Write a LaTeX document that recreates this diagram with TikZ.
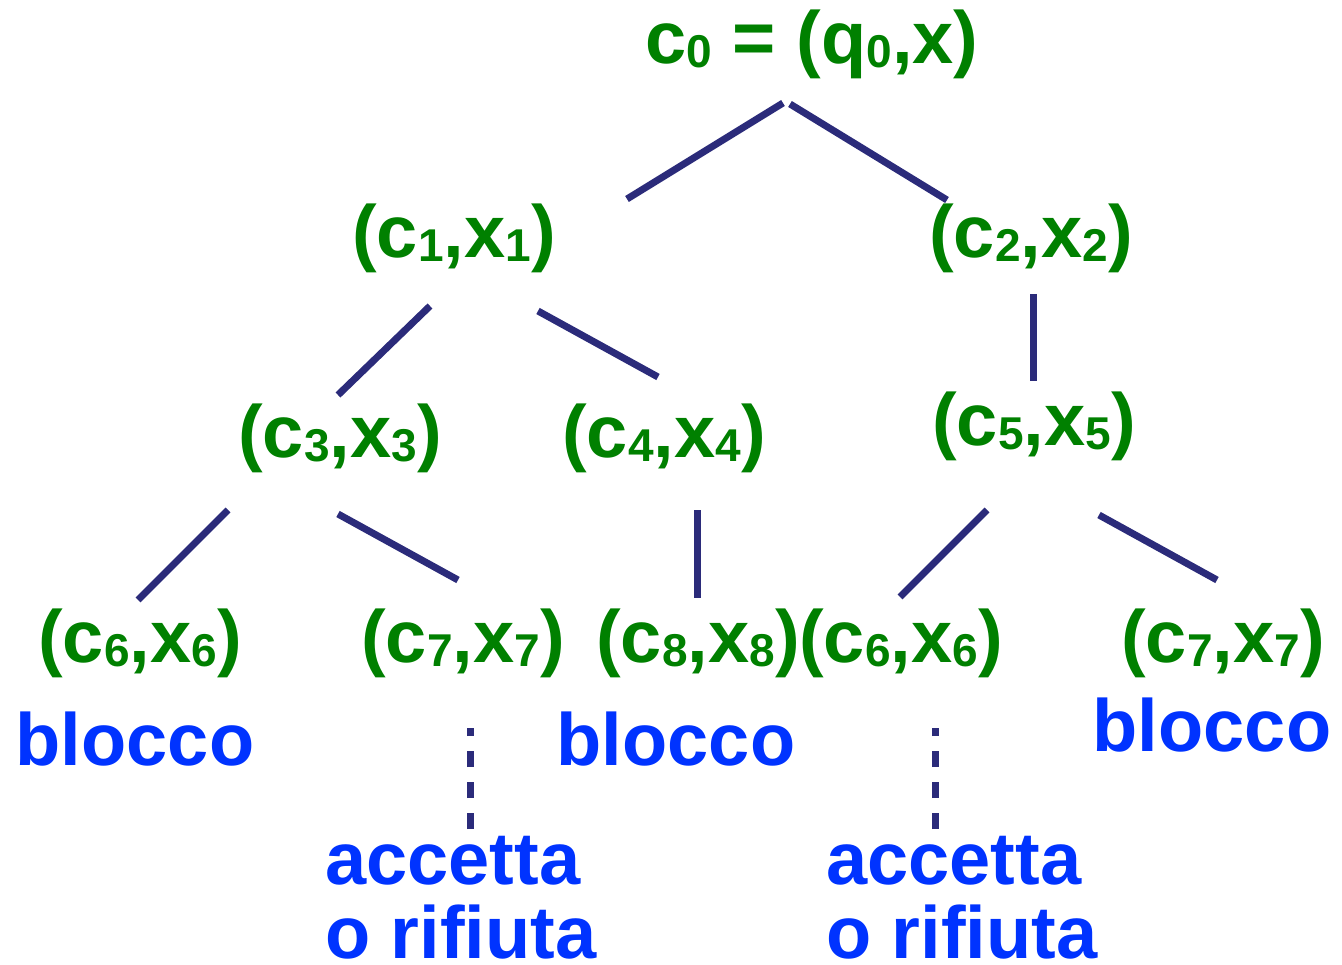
\documentclass[tikz,border=0pt]{standalone}
\usepackage{fontspec}
\setmainfont{Liberation Sans}
\definecolor{tgreen}{RGB}{0,128,0}
\definecolor{tblue}{RGB}{0,51,255}
\definecolor{tnavy}{RGB}{43,43,122}
\newcommand{\sbs}[1]{{\fontsize{46}{46}\selectfont\raisebox{-4pt}{#1}}}
\newcommand{\cxpair}[1]{(c\sbs{#1},x\sbs{#1})}
\begin{document}
\begin{tikzpicture}[x=1pt,y=-1pt,
  conf/.style={text=tgreen,font=\fontsize{74}{80}\selectfont\bfseries,inner sep=0pt,anchor=base},
  outc/.style={text=tblue,font=\fontsize{74}{80}\selectfont\bfseries,inner sep=0pt},
  edge/.style={draw=tnavy,line width=7pt},
  dedge/.style={draw=tnavy,line width=7pt,dash pattern=on 16pt off 15pt}]
\useasboundingbox (0,0) rectangle (1342,965);
% configurations
\node[conf] (c0) at (812,64) {c\sbs{0} = (q\sbs{0},x)};
\node[conf] (c1) at (454,258) {\cxpair{1}};
\node[conf] (c2) at (1031,258) {\cxpair{2}};
\node[conf] (c3) at (340,458) {\cxpair{3}};
\node[conf] (c4) at (664,458) {\cxpair{4}};
\node[conf] (c5) at (1034,446) {\cxpair{5}};
\node[conf] (c6a) at (140,662) {\cxpair{6}};
\node[conf] (c7a) at (463,662) {\cxpair{7}};
\node[conf] (c8) at (698,662) {\cxpair{8}};
\node[conf] (c6b) at (901,662) {\cxpair{6}};
\node[conf] (c7b) at (1223,662) {\cxpair{7}};
% outcomes
\node[outc,anchor=base] (b1) at (135,765) {blocco};
\node[outc,anchor=base] (b2) at (676,765) {blocco};
\node[outc,anchor=base] (b3) at (1212,751) {blocco};
\node[outc,anchor=base west] (accL1) at (325,884) {accetta};
\node[outc,anchor=base west] (accL2) at (325,958) {o rifiuta};
\node[outc,anchor=base west] (accR1) at (826,884) {accetta};
\node[outc,anchor=base west] (accR2) at (826,958) {o rifiuta};
% edges
\draw[edge] ([shift={(-29,39)}]c0.base) -- ([shift={(173,-59)}]c1.base);
\draw[edge] ([shift={(-22,40)}]c0.base) -- ([shift={(-84,-58)}]c2.base);
\draw[edge] ([shift={(-24,48)}]c1.base) -- ([shift={(-2,-63)}]c3.base);
\draw[edge] ([shift={(84,53)}]c1.base) -- ([shift={(-6,-81)}]c4.base);
\draw[edge] ([shift={(2,36)}]c2.base) -- ([shift={(-1,-65)}]c5.base);
\draw[edge] ([shift={(-112,52)}]c3.base) -- ([shift={(-2,-62)}]c6a.base);
\draw[edge] ([shift={(-2,56)}]c3.base) -- ([shift={(-5,-82)}]c7a.base);
\draw[edge] ([shift={(33,52)}]c4.base) -- ([shift={(-1,-64)}]c8.base);
\draw[edge] ([shift={(-47,64)}]c5.base) -- ([shift={(-1,-65)}]c6b.base);
\draw[edge] ([shift={(65,69)}]c5.base) -- ([shift={(-6,-82)}]c7b.base);
\draw[dedge] ([shift={(145,-55)}]accL1.base west) -- ([shift={(7,66)}]c7a.base);
\draw[dedge] ([shift={(109,-55)}]accR1.base west) -- ([shift={(34,66)}]c6b.base);
\end{tikzpicture}
\end{document}
